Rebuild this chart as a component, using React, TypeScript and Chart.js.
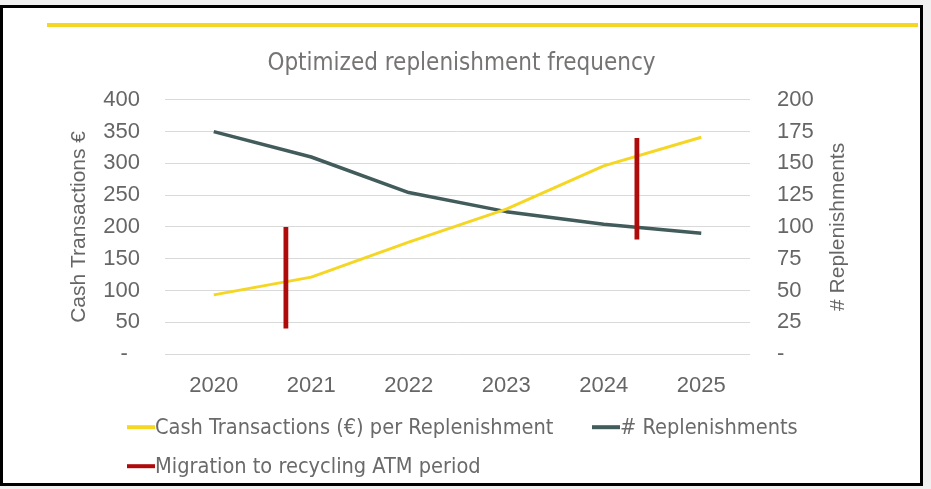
import { useRef, useEffect } from 'react';
import { Chart, registerables } from 'chart.js';

Chart.register(...registerables);

// Datos del gráfico
const years = ['2020', '2021', '2022', '2023', '2024', '2025'];
const cashPerReplenishment = [93, 121, 176, 228, 296, 341];
const replenishments = [175, 155, 127, 112, 102, 95];
// Periodos de migración (posición en el eje x, desde / hasta en el eje izquierdo)
const migrationX = [0.74, 4.34];
const migrationFrom = [40, 180];
const migrationTo = [200, 340];

const chartTitle = 'Optimized replenishment frequency';
const leftAxisTitle = 'Cash Transactions €';
const rightAxisTitle = '# Replenishments';
const legendLabels = [
  'Cash Transactions (€) per Replenishment',
  '# Replenishments',
  'Migration to recycling ATM period'
];

const YELLOW = '#F4D623';
const SLATE = '#425B5B';
const RED = '#AF0B0B';
const TICK_COLOR = '#666666';
const NARROW = "'DejaVu Sans Condensed', sans-serif";
const SANS = "'Liberation Sans', Arial, sans-serif";

const CANVAS_W = 917;
const CANVAS_H = 475;

// Línea amarilla superior y título del eje derecho (leído de abajo hacia arriba)
const decorPlugin = {
  id: 'decor',
  beforeDraw(chart: Chart) {
    const { ctx } = chart;
    ctx.save();
    ctx.fillStyle = YELLOW;
    ctx.fillRect(44, 15, 871, 4);
    ctx.restore();
  },
  afterDraw(chart: Chart) {
    const { ctx, chartArea } = chart;
    ctx.save();
    ctx.translate(835, (chartArea.top + chartArea.bottom) / 2);
    ctx.rotate(-Math.PI / 2);
    ctx.font = `21px ${SANS}`;
    ctx.fillStyle = TICK_COLOR;
    ctx.textAlign = 'center';
    ctx.textBaseline = 'middle';
    ctx.fillText(rightAxisTitle, 0, 0);
    ctx.restore();
  }
};

const ReplenishmentChart = () => {
  const chartRef = useRef<HTMLCanvasElement>(null);
  const chartInstance = useRef<Chart | null>(null);

  useEffect(() => {
    if (!chartRef.current) return;
    if (chartInstance.current) chartInstance.current.destroy();

    const migrationData: { x: number; y: number | null }[] = [];
    migrationX.forEach((x, i) => {
      migrationData.push({ x, y: migrationFrom[i] });
      migrationData.push({ x, y: migrationTo[i] });
      migrationData.push({ x, y: null });
    });

    const ctx = chartRef.current.getContext('2d');
    if (!ctx) return;

    chartInstance.current = new Chart(ctx, {
      type: 'line',
      data: {
        datasets: [
          {
            label: legendLabels[2],
            data: migrationData,
            borderColor: RED,
            borderWidth: 4.8,
            borderCapStyle: 'butt',
            pointRadius: 0,
            spanGaps: false,
            yAxisID: 'y',
            order: 0
          },
          {
            label: legendLabels[0],
            data: cashPerReplenishment.map((v, i) => ({ x: i, y: v })),
            borderColor: YELLOW,
            borderWidth: 3,
            borderJoinStyle: 'round',
            pointRadius: 0,
            yAxisID: 'y',
            order: 1
          },
          {
            label: legendLabels[1],
            data: replenishments.map((v, i) => ({ x: i, y: v })),
            borderColor: SLATE,
            borderWidth: 3.5,
            borderJoinStyle: 'round',
            pointRadius: 0,
            yAxisID: 'y1',
            order: 2
          }
        ]
      },
      options: {
        responsive: false,
        animation: false,
        layout: { padding: { top: 0, bottom: 79, left: 0, right: 0 } },
        plugins: {
          legend: { display: false },
          tooltip: { enabled: false },
          title: {
            display: true,
            text: chartTitle,
            color: '#767373',
            font: { family: NARROW, size: 24, weight: 'normal' },
            padding: { top: 41, bottom: 22 }
          }
        },
        scales: {
          x: {
            type: 'linear',
            min: -0.5,
            max: 5.5,
            grid: { display: false },
            border: { display: false },
            afterBuildTicks: (scale: any) => {
              scale.ticks = years.map((_, i) => ({ value: i }));
            },
            afterFit: (scale: any) => {
              scale.height = 50;
            },
            ticks: {
              padding: 11,
              color: TICK_COLOR,
              font: { family: SANS, size: 22 },
              callback: (value: any) => years[Math.round(Number(value))] ?? ''
            }
          },
          y: {
            position: 'left',
            min: 0,
            max: 400,
            grid: { color: '#D9D9D9', lineWidth: 1, drawTicks: false },
            border: { display: false },
            afterFit: (scale: any) => {
              scale.width = 162;
            },
            ticks: {
              stepSize: 50,
              padding: 25,
              color: TICK_COLOR,
              font: { family: SANS, size: 22 },
              callback: (value: any) => (Number(value) === 0 ? '-  ' : String(value))
            },
            title: {
              display: true,
              text: leftAxisTitle,
              color: TICK_COLOR,
              font: { family: SANS, size: 21 },
              padding: { top: 64, bottom: 0 }
            }
          },
          y1: {
            position: 'right',
            min: 0,
            max: 200,
            grid: { display: false, drawTicks: false },
            border: { display: false },
            afterFit: (scale: any) => {
              scale.width = CANVAS_W - 747;
            },
            ticks: {
              stepSize: 25,
              padding: 27,
              color: TICK_COLOR,
              font: { family: SANS, size: 22 },
              callback: (value: any) => (Number(value) === 0 ? '-' : String(value))
            }
          }
        }
      },
      plugins: [decorPlugin]
    });

    return () => {
      if (chartInstance.current) {
        chartInstance.current.destroy();
        chartInstance.current = null;
      }
    };
  }, []);

  const legendItems = [
    { text: legendLabels[0], color: YELLOW, left: 124, top: 419 },
    { text: legendLabels[1], color: SLATE, left: 589, top: 419 },
    { text: legendLabels[2], color: RED, left: 124, top: 458 }
  ];

  return (
    <div style={{ position: 'fixed', inset: 0, background: '#F0F0F0' }}>
      <div
        style={{
          position: 'absolute',
          left: 0,
          top: 5,
          width: CANVAS_W,
          height: CANVAS_H,
          border: '3px solid #000',
          background: '#fff'
        }}
      >
        <canvas ref={chartRef} width={CANVAS_W} height={CANVAS_H} style={{ display: 'block' }}></canvas>
        {legendItems.map(item => (
          <div
            key={item.text}
            style={{
              position: 'absolute',
              left: item.left,
              top: item.top,
              transform: 'translateY(-50%)',
              display: 'flex',
              alignItems: 'center',
              fontFamily: NARROW,
              fontSize: 21.6,
              lineHeight: 1,
              color: '#6A6A6A',
              whiteSpace: 'nowrap'
            }}
          >
            <span style={{ display: 'inline-block', width: 28, height: 4, background: item.color }}></span>
            <span>{item.text}</span>
          </div>
        ))}
      </div>
    </div>
  );
};

export default function App() {
  return <ReplenishmentChart />;
}
